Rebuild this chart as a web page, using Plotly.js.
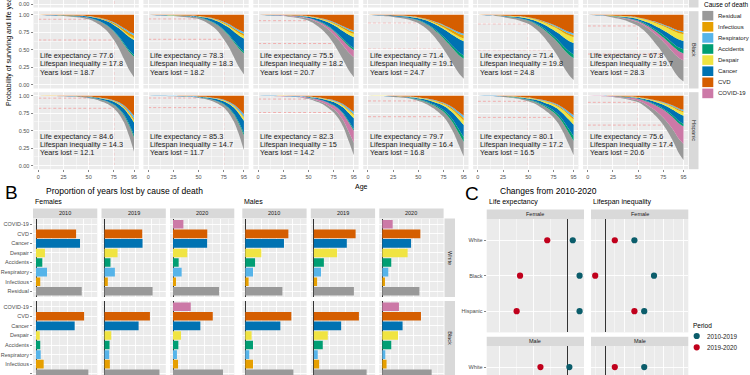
<!DOCTYPE html>
<html><head><meta charset="utf-8">
<script src="https://cdn.plot.ly/plotly-3.0.1.min.js"></script>
<style>html,body{margin:0;padding:0;background:#fff}#chart{width:750px;height:375px}</style>
</head><body><div id="chart"></div>
<script>
// ================= DATA =================
const ages = [0,10,20,30,40,50,55,60,65,70,75,80,85,90,95];
const ageTicks = [0,25,50,75,95];
const survTicks = [0,0.25,0.5,0.75,1];
const survTickText = ["0.00","0.25","0.50","0.75","1.00"];

// Panel A: survival probability by age (columns: F2010, F2019, F2020, M2010, M2019, M2020)
const survBlack = [
 [1.0,0.988,0.984,0.975,0.962,0.935,0.905,0.865,0.81,0.74,0.64,0.52,0.37,0.22,0.11],
 [1.0,0.989,0.985,0.976,0.962,0.94,0.91,0.87,0.82,0.75,0.65,0.54,0.40,0.26,0.15],
 [1.0,0.989,0.984,0.972,0.953,0.915,0.88,0.83,0.77,0.69,0.59,0.47,0.34,0.21,0.11],
 [1.0,0.987,0.978,0.957,0.933,0.88,0.835,0.775,0.70,0.61,0.51,0.40,0.28,0.17,0.09],
 [1.0,0.988,0.978,0.952,0.922,0.87,0.825,0.765,0.69,0.60,0.50,0.39,0.26,0.15,0.07],
 [1.0,0.988,0.976,0.945,0.905,0.84,0.785,0.715,0.63,0.54,0.44,0.33,0.21,0.11,0.05]];
const survHispanic = [
 [1.0,0.994,0.992,0.989,0.983,0.965,0.952,0.932,0.905,0.87,0.82,0.74,0.62,0.43,0.20],
 [1.0,0.995,0.993,0.99,0.984,0.967,0.955,0.937,0.912,0.878,0.83,0.75,0.63,0.45,0.22],
 [1.0,0.995,0.992,0.987,0.978,0.952,0.932,0.905,0.87,0.82,0.76,0.67,0.54,0.35,0.15],
 [1.0,0.994,0.99,0.978,0.963,0.925,0.9,0.865,0.82,0.765,0.70,0.60,0.47,0.30,0.13],
 [1.0,0.995,0.99,0.976,0.958,0.92,0.894,0.858,0.81,0.755,0.69,0.60,0.47,0.31,0.15],
 [1.0,0.995,0.988,0.97,0.945,0.905,0.865,0.81,0.745,0.67,0.58,0.47,0.34,0.19,0.08]];

const lifeExpBlack = [77.6,78.3,75.5,71.4,71.4,67.8];
const lifespanIneqBlack = [17.8,18.3,18.2,19.1,19.8,19.7];
const yearsLostBlack = [18.7,18.2,20.7,24.7,24.8,28.3];
const lifeExpHispanic = [84.6,85.3,82.3,79.7,80.1,75.6];
const lifespanIneqHispanic = [14.3,14.7,15,16.4,17.2,17.4];
const yearsLostHispanic = [12.1,11.7,14.2,16.8,16.5,20.6];

// Causes (panel B order, top to bottom)
const causes = ["COVID-19","CVD","Cancer","Despair","Accidents","Respiratory","Infectious","Residual"];
const legendCauses = ["Residual","Infectious","Respiratory","Accidents","Despair","Cancer","CVD","COVID-19"];
const stackCauses = ["Residual","COVID-19","Accidents","Cancer","Despair","Infectious","Respiratory","CVD"];
const causeColors = {"Residual":"#999999","Infectious":"#E69F00","Respiratory":"#56B4E9","Accidents":"#009E73",
  "Despair":"#F0E442","Cancer":"#0072B2","CVD":"#D55E00","COVID-19":"#CC79A7"};

const years = ["2010","2019","2020"];
// Panel B: proportion of years lost by cause (order = causes)
const propWhiteFemale = [
 [0,0.255,0.280,0.057,0.040,0.070,0.027,0.291],
 [0,0.240,0.242,0.083,0.038,0.066,0.021,0.306],
 [0.066,0.218,0.217,0.091,0.036,0.055,0.019,0.293]];
const propWhiteMale = [
 [0,0.274,0.246,0.102,0.062,0.049,0.021,0.236],
 [0,0.266,0.210,0.148,0.064,0.046,0.021,0.255],
 [0.066,0.242,0.183,0.161,0.057,0.038,0.017,0.236]];
const propBlackFemale = [
 [0,0.306,0.246,0.024,0.027,0.030,0.049,0.333],
 [0,0.289,0.217,0.043,0.032,0.030,0.034,0.350],
 [0.113,0.253,0.174,0.051,0.034,0.025,0.032,0.318]];
const propBlackMale = [
 [0,0.293,0.223,0.040,0.049,0.025,0.049,0.306],
 [0,0.287,0.174,0.089,0.057,0.025,0.034,0.336],
 [0.106,0.246,0.129,0.100,0.057,0.019,0.027,0.314]];
// Hispanic cause shares (panel A only; order = causes)
const propHispanicFemale = [
 [0,0.36,0.22,0.04,0.04,0.05,0.03,0.26],
 [0,0.34,0.23,0.05,0.04,0.05,0.02,0.27],
 [0.20,0.27,0.18,0.05,0.03,0.04,0.02,0.21]];
const propHispanicMale = [
 [0,0.33,0.20,0.07,0.08,0.04,0.04,0.24],
 [0,0.33,0.19,0.09,0.08,0.04,0.03,0.24],
 [0.27,0.22,0.13,0.05,0.04,0.02,0.02,0.25]];

// Panel C: changes
const groups = ["White","Black","Hispanic"];
const periods = ["2010-2019","2019-2020"];
const periodColors = {"2010-2019":"#0B5D6B","2019-2020":"#C0001C"};
const leChangeFemale = {"2010-2019":[0.3,0.7,0.7],"2019-2020":[-1.2,-2.8,-3.0]};
const leChangeMale   = {"2010-2019":[0.1,0.0,0.4],"2019-2020":[-1.6,-3.6,-4.5]};
const liChangeFemale = {"2010-2019":[0.3,0.5,0.4],"2019-2020":[0.1,-0.1,0.3]};
const liChangeMale   = {"2010-2019":[0.4,0.7,0.8],"2019-2020":[0.1,-0.1,0.2]};

// ================= LAYOUT HELPERS =================
const W=750,H=375;
const FONT="Liberation Sans, Arial, sans-serif";
const X=p=>p/W, Y=p=>1-p/H;
const clamp=v=>Math.max(0,Math.min(1,v));
const layout={width:W,height:H,margin:{l:0,r:0,t:0,b:0},paper_bgcolor:"#FFFFFF",plot_bgcolor:"#EBEBEB",
  showlegend:false,font:{family:FONT,color:"#1A1A1A"},shapes:[],annotations:[]};
const traces=[];
let nAx=0;
function addAxes(x0,x1,y0,y1,xo,yo){
  nAx++; const n=nAx===1?"":nAx;
  const base={showline:false,zeroline:false,showgrid:true,gridcolor:"#FFFFFF",gridwidth:0.9,
    ticks:"",showticklabels:false,fixedrange:true,tickfont:{family:FONT,size:5.5,color:"#4D4D4D"},
    ticklen:2,tickwidth:0.6,tickcolor:"#333333"};
  layout["xaxis"+n]=Object.assign({},base,{domain:[clamp(X(x0)),clamp(X(x1))],anchor:"y"+n},xo);
  layout["yaxis"+n]=Object.assign({},base,{domain:[clamp(Y(y1)),clamp(Y(y0))],anchor:"x"+n},yo);
  return {x:"x"+n,y:"y"+n};
}
function rect(x0,x1,y0,y1,color){layout.shapes.push({type:"rect",xref:"paper",yref:"paper",x0:X(x0),x1:X(x1),y0:Y(y1),y1:Y(y0),fillcolor:color,line:{width:0},layer:"below"});}
function text(t,x,y,opt){layout.annotations.push(Object.assign({text:t,xref:"paper",yref:"paper",x:X(x),y:Y(y),showarrow:false,
  font:{family:FONT,size:7,color:"#1A1A1A"},xanchor:"left",yanchor:"middle"},opt||{}));}

// ================= PANEL A =================
const A_left0=33.5,A_pitch=109.9,A_w=105.3;
const A_rows=[{y0:0,y1:7.5,range:[-0.05,0.057]},{y0:11.2,y1:88.5,range:[-0.05,1.05]},{y0:92.2,y1:169.2,range:[-0.05,1.05]}];
const rowData=[null,
  {surv:survBlack,share:[...propBlackFemale,...propBlackMale],le:lifeExpBlack,li:lifespanIneqBlack,yl:yearsLostBlack,label:"Black"},
  {surv:survHispanic,share:[...propHispanicFemale,...propHispanicMale],le:lifeExpHispanic,li:lifespanIneqHispanic,yl:yearsLostHispanic,label:"Hispanic"}];
const dashColor="rgba(245,120,120,0.75)";
A_rows.forEach((row,r)=>{
  for(let c=0;c<6;c++){
    const x0=A_left0+c*A_pitch;
    const ax=addAxes(x0,x0+A_w,row.y0,row.y1,
      {range:[-4.75,99.75],tickmode:"array",tickvals:ageTicks,showticklabels:r===2,ticks:r===2?"outside":"",
       minor:{tickmode:"array",tickvals:[12.5,37.5,62.5,85],showgrid:true,gridcolor:"#FFFFFF",gridwidth:0.45}},
      {range:row.range,tickmode:"array",tickvals:survTicks,ticktext:survTickText,showticklabels:c===0,ticks:c===0?"outside":"",
       minor:{tickmode:"array",tickvals:[0.125,0.375,0.625,0.875],showgrid:true,gridcolor:"#FFFFFF",gridwidth:0.45}});
    [50,75].forEach(a=>layout.shapes.push({type:"line",xref:ax.x,yref:ax.y,x0:a,x1:a,y0:0,y1:1,layer:"below",line:{color:dashColor,width:0.7,dash:"3px,2px"}}));
    const d=rowData[r]; if(!d) continue;
    const surv=d.surv[c], share=d.share[c];
    const tot=share.reduce((s,v)=>s+v,0);
    [50,75].forEach(a=>{const l=surv[ages.indexOf(a)];
      layout.shapes.push({type:"line",xref:ax.x,yref:ax.y,x0:0,x1:a,y0:l,y1:l,layer:"below",line:{color:dashColor,width:0.7,dash:"3px,2px"}});});
    const sg="A"+r+"_"+c;
    traces.push({type:"scatter",mode:"lines",x:ages,y:surv,xaxis:ax.x,yaxis:ax.y,stackgroup:sg,
      line:{width:0,shape:"spline",smoothing:0.7},fillcolor:"rgba(0,0,0,0)",hoverinfo:"skip"});
    stackCauses.forEach(cause=>{
      const s=share[causes.indexOf(cause)]/tot;
      traces.push({type:"scatter",mode:"lines",x:ages,y:surv.map(l=>s*(1-l)),xaxis:ax.x,yaxis:ax.y,stackgroup:sg,
        line:{width:0,shape:"spline",smoothing:0.7},fillcolor:causeColors[cause],hoverinfo:"skip"});
    });
    [["Life expectancy = "+d.le[c],0.417],["Lifespan inequality = "+d.li[c],0.3],["Years lost = "+d.yl[c],0.183]].forEach(([t,yv])=>
      layout.annotations.push({text:t,xref:ax.x,yref:ax.y,x:0,y:yv,xanchor:"left",yanchor:"middle",showarrow:false,
        font:{family:FONT,size:7.3,color:"#1A1A1A"}}));
  }
  rect(689,698.5,row.y0,row.y1,"#D9D9D9");
  if(rowData[r]) text(rowData[r].label,693.8,(row.y0+row.y1)/2,{textangle:90,xanchor:"center",font:{family:FONT,size:5.5,color:"#1A1A1A"}});
});
text("Age",361,186.5,{xanchor:"center",font:{family:FONT,size:7,color:"#000"}});
text("Probability of surviving and life years lost",8.5,108,{textangle:-90,xanchor:"center",yanchor:"bottom",font:{family:FONT,size:7,color:"#000"}});
text("Cause of death",701.5,5,{font:{family:FONT,size:6.5,color:"#000"}});
legendCauses.forEach((c,i)=>{const yc=15.7+i*11.1;
  rect(702.3,713.3,yc-4.8,yc+4.8,causeColors[c]);
  text(c,716,yc,{font:{family:FONT,size:6,color:"#1A1A1A"}});});

// ================= PANEL B =================
const B_cols=[33,101.5,170,242.3,310.8,379.3],B_w=64.3;
const B_rows=[{y0:218.5,y1:297,range:[7.6,-0.6],label:"White",F:propWhiteFemale,M:propWhiteMale},
              {y0:301,y1:375,range:[7.13,-0.6],label:"Black",F:propBlackFemale,M:propBlackMale}];
B_rows.forEach((row,r)=>{
  B_cols.forEach((x0,c)=>{
    const ax=addAxes(x0,x0+B_w,row.y0,row.y1,
      {range:[-0.0191,0.39],tickmode:"linear",tick0:0,dtick:0.1,zeroline:true,zerolinecolor:"#333333",zerolinewidth:1,
       minor:{tickmode:"linear",tick0:0.05,dtick:0.1,showgrid:true,gridcolor:"#FFFFFF",gridwidth:0.45}},
      {range:row.range,tickmode:"array",tickvals:causes.map((_,i)=>i),ticktext:causes,showticklabels:c===0,ticks:c===0?"outside":""});
    const vals=(c<3?row.F:row.M)[c%3];
    traces.push({type:"bar",orientation:"h",x:vals,y:causes.map((_,i)=>i),width:0.9,xaxis:ax.x,yaxis:ax.y,
      marker:{color:causes.map(k=>causeColors[k]),line:{width:0}},hoverinfo:"skip"});
    if(r===0){rect(x0,x0+B_w,208.5,218.2,"#D9D9D9");text(years[c%3],x0+B_w/2,213.4,{xanchor:"center",font:{family:FONT,size:5.5,color:"#1A1A1A"}});}
  });
  rect(444.5,455,row.y0,row.y1,"#D9D9D9");
  text(row.label,449.8,(row.y0+Math.min(row.y1,297+82))/2,{textangle:90,xanchor:"center",font:{family:FONT,size:5.5,color:"#1A1A1A"}});
});
text("B",3,192,{font:{family:FONT,size:19,color:"#000"}});
text("Proportion of years lost by cause of death",44,191,{font:{family:FONT,size:8.5,color:"#000"}});
text("Females",33,202,{font:{family:FONT,size:7,color:"#000"}});
text("Males",242.3,202,{font:{family:FONT,size:7,color:"#000"}});

// ================= PANEL C =================
const C_cols=[{x0:486.7,x1:584,range:[-4.76,0.96],dtick:2,minor:1,F:leChangeFemale,M:leChangeMale},
              {x0:591,x1:688.3,range:[-0.143,0.85],dtick:0.2,minor:0.1,F:liChangeFemale,M:liChangeMale}];
const C_rows=[{y0:219,y1:332.4,range:[2.6,-0.6],strip:[209.5,219],label:"Female",key:"F"},
              {y0:346,y1:375,range:[0.224,-0.6],strip:[336.7,346],label:"Male",key:"M"}];
C_rows.forEach(row=>{
  C_cols.forEach((col,c)=>{
    const ax=addAxes(col.x0,col.x1,row.y0,row.y1,
      {range:col.range,tickmode:"linear",tick0:0,dtick:col.dtick,zeroline:true,zerolinecolor:"#333333",zerolinewidth:1,
       minor:{tickmode:"linear",tick0:0,dtick:col.minor,showgrid:true,gridcolor:"#FFFFFF",gridwidth:0.45}},
      {range:row.range,tickmode:"array",tickvals:groups.map((_,i)=>i),ticktext:groups,showticklabels:c===0,ticks:c===0?"outside":""});
    periods.forEach(p=>traces.push({type:"scatter",mode:"markers",x:col[row.key][p],y:groups.map((_,i)=>i),xaxis:ax.x,yaxis:ax.y,
      marker:{size:6.2,color:periodColors[p]},hoverinfo:"skip"}));
    rect(col.x0,col.x1,row.strip[0],row.strip[1],"#D9D9D9");
    text(row.label,(col.x0+col.x1)/2,(row.strip[0]+row.strip[1])/2,{xanchor:"center",font:{family:FONT,size:5.5,color:"#1A1A1A"}});
  });
});
text("C",463,193,{font:{family:FONT,size:19,color:"#000"}});
text("Changes from 2010-2020",498,191,{font:{family:FONT,size:8.5,color:"#000"}});
text("Life expectancy",486.7,202,{font:{family:FONT,size:7,color:"#000"}});
text("Lifespan inequality",591,202,{font:{family:FONT,size:7,color:"#000"}});
text("Period",690.7,325,{font:{family:FONT,size:6.5,color:"#000"}});
periods.forEach((p,i)=>{const yc=336+i*11.3;
  layout.shapes.push({type:"circle",xref:"paper",yref:"paper",x0:X(693.6),x1:X(699.8),y0:Y(yc+3.1),y1:Y(yc-3.1),fillcolor:periodColors[p],line:{width:0}});
  text(p,705,yc,{font:{family:FONT,size:6.3,color:"#1A1A1A"}});});

Plotly.newPlot("chart",traces,layout,{staticPlot:true,displayModeBar:false});
</script></body></html>
